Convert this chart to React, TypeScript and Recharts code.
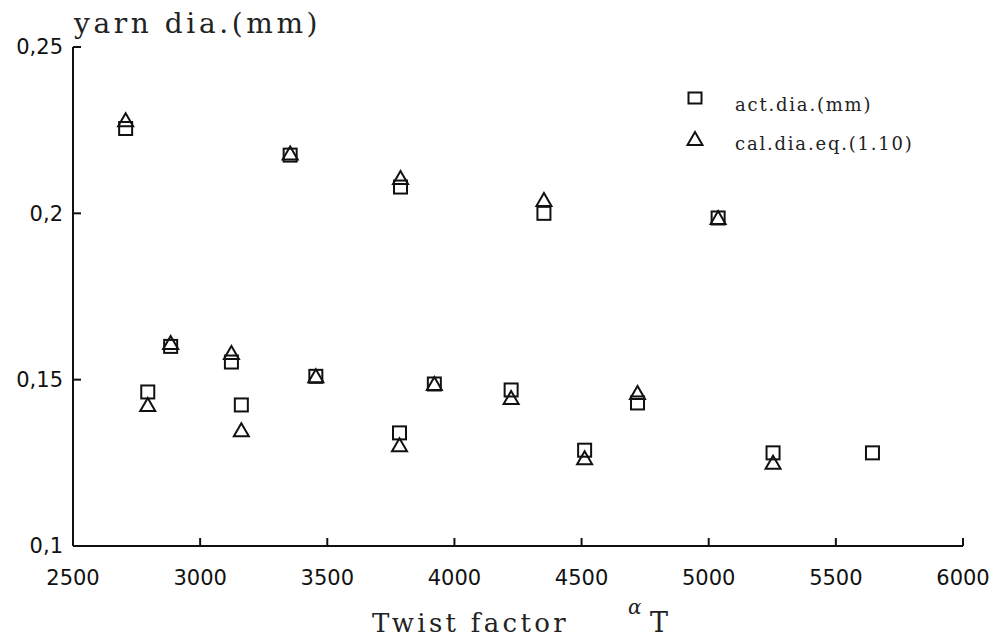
import React from "react";
import { Scatter, ScatterChart, XAxis, YAxis } from "recharts";

// twist factor (alpha T) for each yarn
const twistFactor = [2707, 2794, 2884, 3123, 3162, 3354, 3455, 3788, 3784, 3921, 4223, 4352, 4512, 4720, 5037, 5253, 5644];
// measured diameter (mm)
const actDia = [0.2255, 0.1463, 0.16, 0.1553, 0.1424, 0.2175, 0.151, 0.2079, 0.134, 0.1487, 0.1469, 0.2, 0.1288, 0.143, 0.1986, 0.128, 0.128];
// calculated diameter, eq. (1.10) - no value for the last yarn
const calTwist = [2707, 2794, 2884, 3123, 3162, 3354, 3455, 3788, 3784, 3921, 4223, 4352, 4512, 4720, 5037, 5253];
const calDia = [0.228, 0.1424, 0.161, 0.158, 0.1348, 0.218, 0.151, 0.2106, 0.1303, 0.1487, 0.1445, 0.204, 0.1264, 0.146, 0.1986, 0.125];

const xTicks = [2500, 3000, 3500, 4000, 4500, 5000, 5500, 6000];
const yTicks = [0.1, 0.15, 0.2, 0.25];

const actData = twistFactor.map((x, i) => ({ x, y: actDia[i] }));
const calData = calTwist.map((x, i) => ({ x, y: calDia[i] }));

const tickFont = { fill: "#111", fontSize: 21, fontFamily: "DejaVu Sans" };

const SquareMark = (props: any) => {
  const { cx, cy } = props;
  return <rect x={cx - 6.5} y={cy - 6.5} width={13} height={13} fill="none" stroke="#111" strokeWidth={2} />;
};

const TriangleMark = (props: any) => {
  const { cx, cy } = props;
  return (
    <path
      d={`M${cx},${cy - 7} L${cx + 7.5},${cy + 6} L${cx - 7.5},${cy + 6} Z`}
      fill="none"
      stroke="#111"
      strokeWidth={2}
    />
  );
};

export default function App() {
  return (
    <div style={{ position: "absolute", left: 0, top: 0, width: 1004, height: 641, background: "#fff" }}>
      <ScatterChart width={1004} height={641} margin={{ top: 47, right: 41, bottom: 0, left: 0 }}>
        <XAxis
          type="number"
          dataKey="x"
          domain={[2500, 6000]}
          ticks={xTicks}
          height={95}
          tickSize={-8}
          tickMargin={32}
          axisLine={{ stroke: "#111", strokeWidth: 2 }}
          tickLine={{ stroke: "#111", strokeWidth: 2 }}
          tick={tickFont}
          interval={0}
        />
        <YAxis
          type="number"
          dataKey="y"
          domain={[0.1, 0.25]}
          ticks={yTicks}
          width={73}
          tickSize={-8}
          tickMargin={18}
          axisLine={{ stroke: "#111", strokeWidth: 2 }}
          tickLine={{ stroke: "#111", strokeWidth: 2 }}
          tick={tickFont}
          interval={0}
          tickFormatter={(v) => String(v).replace(".", ",")}
        />
        <XAxis
          xAxisId="top"
          orientation="top"
          type="number"
          domain={[2500, 6000]}
          height={0}
          tick={false}
          tickLine={false}
          axisLine={{ stroke: "#111", strokeWidth: 2 }}
        />
        <YAxis
          yAxisId="right"
          orientation="right"
          type="number"
          domain={[0.1, 0.25]}
          width={0}
          tick={false}
          tickLine={false}
          axisLine={{ stroke: "#555", strokeWidth: 1.5 }}
        />
        <Scatter name="act.dia.(mm)" data={actData} shape={SquareMark} isAnimationActive={false} />
        <Scatter name="cal.dia.eq.(1.10)" data={calData} shape={TriangleMark} isAnimationActive={false} />
      </ScatterChart>
      <svg width={1004} height={641} style={{ position: "absolute", left: 0, top: 0, pointerEvents: "none" }}>
        {/* legend */}
        <rect x={688.5} y={92.5} width={13} height={11} fill="none" stroke="#111" strokeWidth={2} />
        <path d="M695,132 L702.5,145 L687.5,145 Z" fill="none" stroke="#111" strokeWidth={2} />
        <g fontFamily="DejaVu Serif" fontSize={18} fill="#222" letterSpacing={1.8}>
          <text x={735} y={111}>act.dia.(mm)</text>
          <text x={735} y={150}>cal.dia.eq.(1.10)</text>
        </g>
        {/* axis titles */}
        <g fontFamily="DejaVu Serif" fill="#222">
          <text x={74} y={33} fontSize={28} letterSpacing={3.6}>yarn dia.(mm)</text>
          <text x={372} y={632} fontSize={26} letterSpacing={3.3}>Twist factor</text>
          <text x={628} y={614} fontSize={20} fontStyle="italic">α</text>
          <text x={650} y={632} fontSize={27}>T</text>
        </g>
      </svg>
    </div>
  );
}
